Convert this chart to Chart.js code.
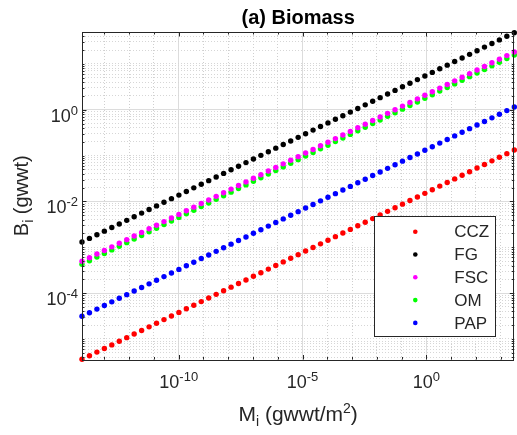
<!DOCTYPE html>
<html>
<head>
<meta charset="utf-8">
<script src="https://cdn.jsdelivr.net/npm/chart.js@4.4.0/dist/chart.umd.min.js"></script>
<style>
  html, body { margin: 0; padding: 0; background: #fff; }
  #wrap { width: 517px; height: 435px; }
</style>
</head>
<body>
<div id="wrap"><canvas id="biomass" width="517" height="435"></canvas></div>
<script>
// body mass classes (gwwt/m2)
var masses = [
  1.24e-14, 2.48e-14, 4.96e-14, 9.92e-14, 1.984e-13, 3.968e-13, 7.936e-13, 1.587e-12,
  3.174e-12, 6.349e-12, 1.270e-11, 2.540e-11, 5.079e-11, 1.016e-10, 2.032e-10, 4.063e-10,
  8.127e-10, 1.625e-9, 3.251e-9, 6.502e-9, 1.300e-8, 2.601e-8, 5.201e-8, 1.040e-7,
  2.080e-7, 4.161e-7, 8.322e-7, 1.664e-6, 3.329e-6, 6.658e-6, 1.332e-5, 2.663e-5,
  5.326e-5, 1.065e-4, 2.130e-4, 4.261e-4, 8.522e-4, 1.704e-3, 3.409e-3, 6.818e-3,
  1.364e-2, 2.727e-2, 5.454e-2, 0.1091, 0.2182, 0.4363, 0.8727, 1.745,
  3.491, 6.982, 13.96, 27.93, 55.85, 111.7, 223.4, 446.8,
  893.6, 1787, 3575,
];

var ccz_biomass = [
  3.597e-6, 4.313e-6, 5.169e-6, 6.197e-6, 7.428e-6, 8.901e-6, 1.067e-5, 1.279e-5,
  1.533e-5, 1.838e-5, 2.203e-5, 2.641e-5, 3.166e-5, 3.795e-5, 4.548e-5, 5.452e-5,
  6.535e-5, 7.833e-5, 9.389e-5, 1.125e-4, 1.349e-4, 1.617e-4, 1.938e-4, 2.323e-4,
  2.785e-4, 3.338e-4, 4.001e-4, 4.796e-4, 5.750e-4, 6.892e-4, 8.260e-4, 9.901e-4,
  1.187e-3, 1.423e-3, 1.705e-3, 2.044e-3, 2.450e-3, 2.937e-3, 3.520e-3, 4.220e-3,
  5.058e-3, 6.063e-3, 7.268e-3, 8.711e-3, 1.044e-2, 1.252e-2, 1.500e-2, 1.798e-2,
  2.156e-2, 2.584e-2, 3.097e-2, 3.713e-2, 4.450e-2, 5.335e-2, 6.395e-2, 7.665e-2,
  9.188e-2, 0.1101, 0.1320,
];

var fg_biomass = [
  1.303e-3, 1.562e-3, 1.873e-3, 2.245e-3, 2.691e-3, 3.225e-3, 3.866e-3, 4.634e-3,
  5.555e-3, 6.658e-3, 7.980e-3, 9.566e-3, 1.147e-2, 1.374e-2, 1.647e-2, 1.975e-2,
  2.367e-2, 2.837e-2, 3.401e-2, 4.076e-2, 4.887e-2, 5.857e-2, 7.021e-2, 8.416e-2,
  0.1009, 0.1209, 0.1449, 0.1737, 0.2083, 0.2496, 0.2992, 0.3587,
  0.4299, 0.5153, 0.6177, 0.7405, 0.8876, 1.064, 1.275, 1.529,
  1.832, 2.196, 2.633, 3.156, 3.783, 4.534, 5.435, 6.515,
  7.809, 9.361, 11.22, 13.45, 16.12, 19.33, 23.17, 27.77,
  33.29, 39.90, 47.83,
];

var fsc_biomass = [
  4.943e-4, 5.925e-4, 7.102e-4, 8.514e-4, 1.020e-3, 1.223e-3, 1.466e-3, 1.757e-3,
  2.107e-3, 2.525e-3, 3.027e-3, 3.628e-3, 4.349e-3, 5.213e-3, 6.249e-3, 7.490e-3,
  8.979e-3, 1.076e-2, 1.290e-2, 1.546e-2, 1.854e-2, 2.222e-2, 2.663e-2, 3.193e-2,
  3.827e-2, 4.587e-2, 5.499e-2, 6.591e-2, 7.900e-2, 9.470e-2, 0.1135, 0.1360,
  0.1631, 0.1955, 0.2343, 0.2808, 0.3367, 0.4035, 0.4837, 0.5798,
  0.6950, 0.8331, 0.9986, 1.197, 1.435, 1.720, 2.062, 2.471,
  2.962, 3.551, 4.256, 5.102, 6.115, 7.330, 8.786, 10.53,
  12.62, 15.13, 18.14,
];

var om_biomass = [
  4.246e-4, 5.090e-4, 6.101e-4, 7.313e-4, 8.766e-4, 1.051e-3, 1.260e-3, 1.510e-3,
  1.810e-3, 2.169e-3, 2.600e-3, 3.117e-3, 3.736e-3, 4.479e-3, 5.368e-3, 6.435e-3,
  7.713e-3, 9.246e-3, 1.108e-2, 1.328e-2, 1.592e-2, 1.909e-2, 2.288e-2, 2.742e-2,
  3.287e-2, 3.940e-2, 4.723e-2, 5.661e-2, 6.787e-2, 8.134e-2, 9.750e-2, 0.1169,
  0.1401, 0.1679, 0.2013, 0.2413, 0.2892, 0.3467, 0.4155, 0.4981,
  0.5970, 0.7156, 0.8579, 1.028, 1.233, 1.477, 1.771, 2.123,
  2.545, 3.050, 3.656, 4.382, 5.253, 6.296, 7.548, 9.047,
  10.84, 13.00, 15.58,
];

var pap_biomass = [
  3.119e-5, 3.739e-5, 4.482e-5, 5.372e-5, 6.440e-5, 7.718e-5, 9.252e-5, 1.109e-4,
  1.329e-4, 1.593e-4, 1.910e-4, 2.289e-4, 2.744e-4, 3.289e-4, 3.943e-4, 4.726e-4,
  5.665e-4, 6.791e-4, 8.140e-4, 9.757e-4, 1.169e-3, 1.402e-3, 1.680e-3, 2.014e-3,
  2.414e-3, 2.894e-3, 3.469e-3, 4.158e-3, 4.984e-3, 5.974e-3, 7.161e-3, 8.585e-3,
  1.029e-2, 1.233e-2, 1.478e-2, 1.772e-2, 2.124e-2, 2.546e-2, 3.052e-2, 3.659e-2,
  4.385e-2, 5.257e-2, 6.300e-2, 7.553e-2, 9.053e-2, 0.1085, 0.1301, 0.1559,
  0.1869, 0.2240, 0.2685, 0.3219, 0.3859, 0.4625, 0.5544, 0.6646,
  0.7965, 0.9548, 1.144,
];

var series_labels = ["CCZ", "FG", "FSC", "OM", "PAP"];
var series_colors = ["#ff0000", "#000000", "#ff00ff", "#00ff00", "#0000ff"];

// exponents that get a label (majors); every other decade is a minor tick
var x_label_exps = [-10, -5, 0];
var y_label_exps = [-4, -2, 0];

var y_min = 3.565e-6;
var y_max = 49.5;

var TXT = "#262626";
var FONT = '"Liberation Sans", Arial, Helvetica, sans-serif';

function pairs(ys) {
  return masses.map(function (m, i) {
    return { x: m, y: ys[i] };
  });
}

function isMajor(v, list) {
  var e = Math.log10(v);
  return Math.abs(e - Math.round(e)) < 1e-6 && list.indexOf(Math.round(e)) >= 0;
}

// ticks at every decade on x
function xTickValues(lo, hi) {
  var out = [];
  for (var e = Math.ceil(Math.log10(lo)); e <= Math.floor(Math.log10(hi)); e++) {
    out.push(Math.pow(10, e));
  }
  return out;
}

// ticks at 1..9 x 10^n on y
function yTickValues(lo, hi) {
  var out = [];
  for (var e = Math.floor(Math.log10(lo)); e <= Math.ceil(Math.log10(hi)); e++) {
    for (var k = 1; k <= 9; k++) {
      var v = k * Math.pow(10, e);
      if (v >= lo && v <= hi) out.push(v);
    }
  }
  return out;
}

// text runs with sub/superscripts: [text, size, dy]
function runWidth(ctx, runs, bold) {
  var w = 0;
  runs.forEach(function (r) {
    ctx.font = (bold ? "bold " : "") + r[1] + "px " + FONT;
    w += ctx.measureText(r[0]).width;
  });
  return w;
}

function drawRuns(ctx, runs, x, y, align, bold) {
  var w = runWidth(ctx, runs, bold);
  var cx = x;
  if (align === "center") cx = x - w / 2;
  if (align === "right") cx = x - w;
  ctx.textAlign = "left";
  ctx.textBaseline = "alphabetic";
  runs.forEach(function (r) {
    ctx.font = (bold ? "bold " : "") + r[1] + "px " + FONT;
    ctx.fillText(r[0], cx, y + (r[2] || 0));
    cx += ctx.measureText(r[0]).width;
  });
}

function powRuns(e) {
  return [["10", 18, 0], [String(e), 13, -7]];
}

var matlabAxes = {
  id: "matlabAxes",
  afterDraw: function (chart) {
    var ctx = chart.ctx;
    var a = chart.chartArea;
    var xs = chart.scales.x;
    var ys = chart.scales.y;
    ctx.save();

    // box
    ctx.strokeStyle = TXT;
    ctx.lineWidth = 1;
    ctx.strokeRect(Math.round(a.left) + 0.5, Math.round(a.top) + 0.5,
      Math.round(a.right - a.left) - 1, Math.round(a.bottom - a.top));

    // inward ticks
    ctx.beginPath();
    xTickValues(xs.min, xs.max).forEach(function (v) {
      var px = Math.round(xs.getPixelForValue(v)) + 0.5;
      var len = isMajor(v, x_label_exps) ? 4.5 : 2.5;
      ctx.moveTo(px, a.bottom); ctx.lineTo(px, a.bottom - len);
      ctx.moveTo(px, a.top); ctx.lineTo(px, a.top + len);
    });
    yTickValues(ys.min, ys.max).forEach(function (v) {
      var py = Math.round(ys.getPixelForValue(v)) + 0.5;
      var len = isMajor(v, y_label_exps) ? 4.5 : 2.5;
      ctx.moveTo(a.left, py); ctx.lineTo(a.left + len, py);
      ctx.moveTo(a.right, py); ctx.lineTo(a.right - len, py);
    });
    ctx.stroke();

    // tick labels
    ctx.fillStyle = TXT;
    x_label_exps.forEach(function (e) {
      var px = xs.getPixelForValue(Math.pow(10, e));
      drawRuns(ctx, powRuns(e), px, a.bottom + 28, "center");
    });
    y_label_exps.forEach(function (e) {
      var py = ys.getPixelForValue(Math.pow(10, e));
      drawRuns(ctx, powRuns(e), a.left - 4, py + 12, "right");
    });

    // axis titles
    drawRuns(ctx, [["M", 21, 0], ["i", 14, 5], [" (gwwt/m", 21, 0], ["2", 14, -8], [")", 21, 0]],
      (a.left + a.right) / 2, 421, "center");
    ctx.save();
    ctx.translate(28, (a.top + a.bottom) / 2);
    ctx.rotate(-Math.PI / 2);
    drawRuns(ctx, [["B", 20, 0], ["i", 14, 5], [" (gwwt)", 20, 0]], 0, 0, "center");
    ctx.restore();

    // title
    ctx.fillStyle = "#000";
    drawRuns(ctx, [["(a) Biomass", 20, 0]], (a.left + a.right) / 2, 24, "center", true);

    // legend
    var lx = 374.5, ly = 216.5, lw = 121, lh = 120;
    ctx.fillStyle = "#fff";
    ctx.fillRect(lx, ly, lw, lh);
    ctx.strokeStyle = TXT;
    ctx.strokeRect(lx, ly, lw, lh);
    chart.data.datasets.forEach(function (ds, i) {
      var ry = 231.7 + i * 22.8;
      ctx.fillStyle = ds.backgroundColor;
      ctx.beginPath();
      ctx.arc(415.3, ry, 2.3, 0, Math.PI * 2);
      ctx.fill();
      ctx.fillStyle = TXT;
      ctx.font = "17px " + FONT;
      ctx.textAlign = "left";
      ctx.textBaseline = "middle";
      ctx.fillText(ds.label, 454.3, ry + 1);
    });

    ctx.restore();
  },
};

var all_series = [ccz_biomass, fg_biomass, fsc_biomass, om_biomass, pap_biomass];

var datasets = all_series.map(function (ys, i) {
  return {
    label: series_labels[i],
    data: pairs(ys),
    backgroundColor: series_colors[i],
    borderColor: series_colors[i],
    pointRadius: 2.7,
    pointBorderWidth: 0,
    pointHoverRadius: 2.7,
    showLine: false,
    clip: false,
  };
});

const ctx = document.getElementById("biomass");

const biomass = new Chart(ctx, {
  type: "scatter",
  data: { datasets: datasets },
  options: {
    responsive: false,
    animation: false,
    events: [],
    layout: { padding: { left: 82, top: 32, right: 2, bottom: 75.5 } },
    plugins: {
      legend: { display: false },
      tooltip: { enabled: false },
      title: { display: false },
    },
    scales: {
      x: {
        type: "logarithmic",
        min: masses[0],
        max: masses[masses.length - 1],
        afterBuildTicks: function (scale) {
          scale.ticks = xTickValues(scale.min, scale.max).map(function (v) {
            return { value: v };
          });
        },
        ticks: { display: false, autoSkip: false },
        grid: {
          drawTicks: false,
          lineWidth: 1,
          color: function (c) {
            return isMajor(c.tick.value, x_label_exps) ? "#dcdcdc" : "#cfcfcf";
          },
        },
        border: {
          display: false,
          dash: function (c) {
            return isMajor(c.tick.value, x_label_exps) ? [] : [1, 2];
          },
        },
      },
      y: {
        type: "logarithmic",
        min: y_min,
        max: y_max,
        afterBuildTicks: function (scale) {
          scale.ticks = yTickValues(scale.min, scale.max).map(function (v) {
            return { value: v };
          });
        },
        ticks: { display: false, autoSkip: false },
        grid: {
          drawTicks: false,
          lineWidth: 1,
          color: function (c) {
            return isMajor(c.tick.value, y_label_exps) ? "#dcdcdc" : "#d6d6d6";
          },
        },
        border: {
          display: false,
          dash: function (c) {
            return isMajor(c.tick.value, y_label_exps) ? [] : [1, 2];
          },
        },
      },
    },
  },
  plugins: [matlabAxes],
});
</script>
</body>
</html>
